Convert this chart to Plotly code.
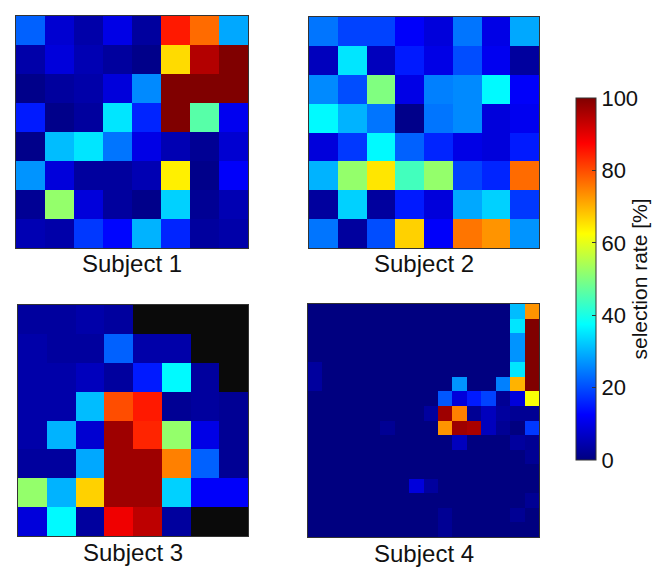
import plotly.graph_objects as go

# selection rate [%] per cell, rows top to bottom
subject1 = [
    [22, 8, 4, 10, 3, 85, 77, 29],
    [4, 9, 5, 3, 1, 66, 95, 100],
    [1, 3, 4, 9, 26, 100, 100, 100],
    [15, 1, 3, 35, 16, 100, 46, 11],
    [1, 31, 35, 24, 10, 5, 2, 8],
    [27, 9, 3, 3, 5, 64, 1, 12],
    [2, 52, 9, 3, 1, 33, 2, 5],
    [5, 4, 18, 13, 30, 16, 3, 4],
]
subject2 = [
    [24, 19, 19, 12, 9, 24, 10, 29],
    [6, 35, 6, 15, 10, 20, 11, 3],
    [26, 20, 50, 10, 25, 26, 37, 12],
    [37, 30, 24, 1, 24, 26, 9, 11],
    [9, 18, 37, 22, 16, 10, 9, 15],
    [30, 52, 65, 44, 52, 19, 16, 77],
    [3, 33, 3, 15, 9, 29, 33, 18],
    [24, 3, 20, 67, 12, 76, 73, 27],
]
N = None  # not measured (drawn black)
subject3 = [
    [3, 3, 4, 3, N, N, N, N],
    [4, 3, 3, 22, 4, 4, N, N],
    [4, 4, 6, 3, 15, 37, 3, N],
    [4, 4, 31, 80, 85, 2, 3, 2],
    [4, 30, 8, 97, 84, 52, 10, 2],
    [3, 3, 29, 97, 97, 75, 22, 2],
    [52, 30, 67, 97, 97, 33, 12, 12],
    [9, 37, 3, 89, 94, 3, N, N],
]
subject4 = [
    [0, 0, 0, 0, 0, 0, 0, 0, 0, 0, 0, 0, 0, 0, 31, 73],
    [0, 0, 0, 0, 0, 0, 0, 0, 0, 0, 0, 0, 0, 0, 35, 100],
    [0, 0, 0, 0, 0, 0, 0, 0, 0, 0, 0, 0, 0, 0, 27, 100],
    [0, 0, 0, 0, 0, 0, 0, 0, 0, 0, 0, 0, 0, 0, 27, 100],
    [3, 0, 0, 0, 0, 0, 0, 0, 0, 0, 0, 0, 0, 0, 35, 100],
    [3, 0, 0, 0, 0, 0, 0, 0, 0, 0, 27, 0, 0, 25, 70, 100],
    [0, 0, 0, 0, 0, 0, 0, 0, 0, 21, 9, 15, 19, 2, 9, 62],
    [0, 0, 0, 0, 0, 0, 0, 0, 3, 97, 75, 2, 6, 3, 2, 2],
    [0, 0, 0, 0, 0, 2, 0, 0, 0, 73, 97, 96, 6, 2, 0, 18],
    [0, 0, 0, 0, 0, 0, 0, 0, 0, 0, 6, 0, 0, 0, 3, 2],
    [0, 0, 0, 0, 0, 0, 0, 0, 0, 0, 0, 0, 0, 0, 0, 2],
    [0, 0, 0, 0, 0, 0, 0, 0, 0, 0, 0, 0, 0, 0, 0, 0],
    [0, 0, 0, 0, 0, 0, 0, 9, 3, 0, 0, 0, 0, 0, 0, 0],
    [0, 0, 0, 0, 0, 0, 0, 0, 0, 0, 0, 0, 0, 0, 0, 2],
    [0, 0, 0, 0, 0, 0, 0, 0, 0, 2, 0, 0, 0, 0, 2, 0],
    [0, 0, 0, 0, 0, 0, 0, 0, 0, 2, 0, 0, 0, 0, 0, 0],
]
subjects = [subject1, subject2, subject3, subject4]
labels = ["Subject 1", "Subject 2", "Subject 3", "Subject 4"]
cbar_ticks = [0, 20, 40, 60, 80, 100]

W, H = 664, 573
matlab_jet = [
    [0.0, "rgb(0,0,128)"], [0.125, "rgb(0,0,255)"], [0.375, "rgb(0,255,255)"],
    [0.625, "rgb(255,255,0)"], [0.875, "rgb(255,0,0)"], [1.0, "rgb(128,0,0)"],
]

# panel boxes in pixels: x0, x1, y0, y1 (y from top)
boxes = [(8, 240, 8, 240), (301, 531, 9, 240), (10, 240, 297, 528), (300, 531, 296, 529)]
font = "Liberation Sans, Arial, sans-serif"

fig = go.Figure()
for i, (z, lab, (x0, x1, y0, y1)) in enumerate(zip(subjects, labels, boxes)):
    n = len(z)
    ax = "" if i == 0 else str(i + 1)
    fig.add_trace(go.Heatmap(
        z=z, coloraxis="coloraxis", xaxis="x" + ax, yaxis="y" + ax,
        hoverongaps=False, xgap=0, ygap=0,
    ))
    axis = dict(showticklabels=False, ticks="", showgrid=False, zeroline=False,
                showline=True, mirror=True, linecolor="#333", linewidth=1)
    fig.update_layout(**{
        "xaxis" + ax: dict(axis, domain=[x0 / W, x1 / W], range=[-0.5, n - 0.5],
                           anchor="y" + ax),
        "yaxis" + ax: dict(axis, domain=[1 - y1 / H, 1 - y0 / H], range=[n - 0.5, -0.5],
                           anchor="x" + ax),
    })
    fig.add_annotation(text=lab, x=(x0 + x1) / 2 / W, y=1 - (y1 + 16) / H,
                       xref="paper", yref="paper", showarrow=False,
                       xanchor="center", yanchor="middle",
                       font=dict(family=font, size=24, color="#111"))

fig.update_layout(
    width=W, height=H,
    margin=dict(l=0, r=0, t=0, b=0),
    paper_bgcolor="white", plot_bgcolor="#0a0a0a",
    font=dict(family=font, color="#111"),
    coloraxis=dict(
        colorscale=matlab_jet, cmin=0, cmax=100,
        colorbar=dict(
            x=568 / W, xanchor="left", y=1 - 271 / H, yanchor="middle",
            len=362 / H, lenmode="fraction", thickness=20, thicknessmode="pixels",
            outlinewidth=1, outlinecolor="#333",
            tickvals=cbar_ticks, ticks="inside", ticklen=4, tickcolor="#333",
            tickfont=dict(family=font, size=22, color="#111"),
            title=dict(text="selection rate [%]", side="right",
                       font=dict(family=font, size=21, color="#111")),
            xpad=0, ypad=0,
        ),
    ),
)

fig.write_html("out.html")
